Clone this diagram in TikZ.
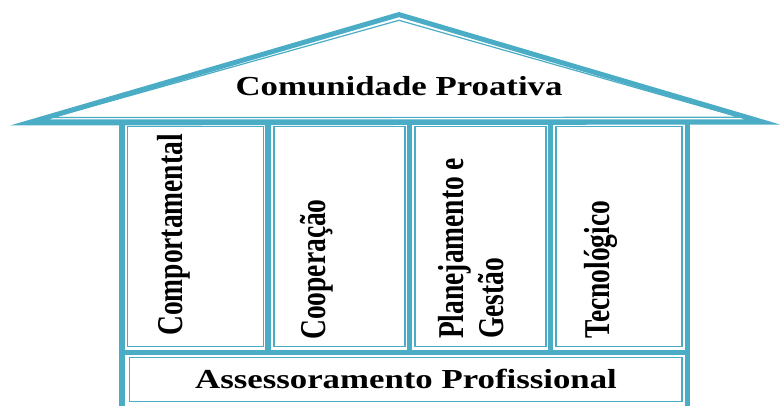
\documentclass[tikz,border=0pt]{standalone}
\usepackage{fontspec}
\setmainfont{Liberation Serif}
\definecolor{hb}{RGB}{75,172,198}
\begin{document}
\begin{tikzpicture}[x=1pt,y=-1pt,
  heavystroke/.style={draw=hb,line width=5.5pt},
  lightstroke/.style={draw=hb,line width=1.2pt},
  lbl/.style={inner sep=0pt,text=black,font=\fontsize{27.5}{31}\selectfont\bfseries},
  vlbl/.style={lbl,rotate=90,anchor=base west}]
\useasboundingbox (0,0) rectangle (781,406);
% roof: thick band (filled) and thin inner line
\fill[hb,even odd rule] (10,125.5) -- (399,12) -- (780,124.5) -- cycle
  (48.4,119.5) -- (399,17.2) -- (745.4,119.5) -- cycle;
\draw[lightstroke,line join=miter] (52,117.5) -- (399,20.3) -- (740,117.3) -- cycle;
% body frame (thick)
\draw[heavystroke] (122,122) -- (122,409) -- (687.5,409) -- (687.5,122);
\draw[heavystroke] (268,122) -- (268,352.5);
\draw[heavystroke] (409.5,122) -- (409.5,352.5);
\draw[heavystroke] (550.3,122) -- (550.3,352.5);
\draw[heavystroke] (122,352.5) -- (687.5,352.5);
% thin inner frames
\draw[lightstroke] (127.3,126.2) rectangle (263.5,346.7);
\draw[lightstroke] (274,126.2) rectangle (405,346.7);
\draw[lightstroke] (415,126.2) rectangle (546,346.7);
\draw[lightstroke] (556,126.2) rectangle (682,346.7);
\draw[lightstroke] (129.3,357.5) rectangle (682,401.8);
% labels
\node[lbl,anchor=base] (roof) at (399,96) {\scalebox{1.265}[1]{Comunidade Proativa}};
\node[lbl,anchor=base] (base) at (406,388) {\scalebox{1.265}[1]{Assessoramento Profissional}};
\node[vlbl] (comp) at (182,336) {\scalebox{1}[1.32]{Comportamental}};
\node[vlbl] (coop) at (325,340) {\scalebox{1}[1.32]{Cooperação}};
\node[vlbl] (plan) at (463,339) {\scalebox{1}[1.32]{\begin{tabular}[t]{@{}l@{}}Planejamento e\\Gestão\end{tabular}}};
\node[vlbl] (tec) at (609,339) {\scalebox{1}[1.32]{Tecnológico}};
\end{tikzpicture}
\end{document}
